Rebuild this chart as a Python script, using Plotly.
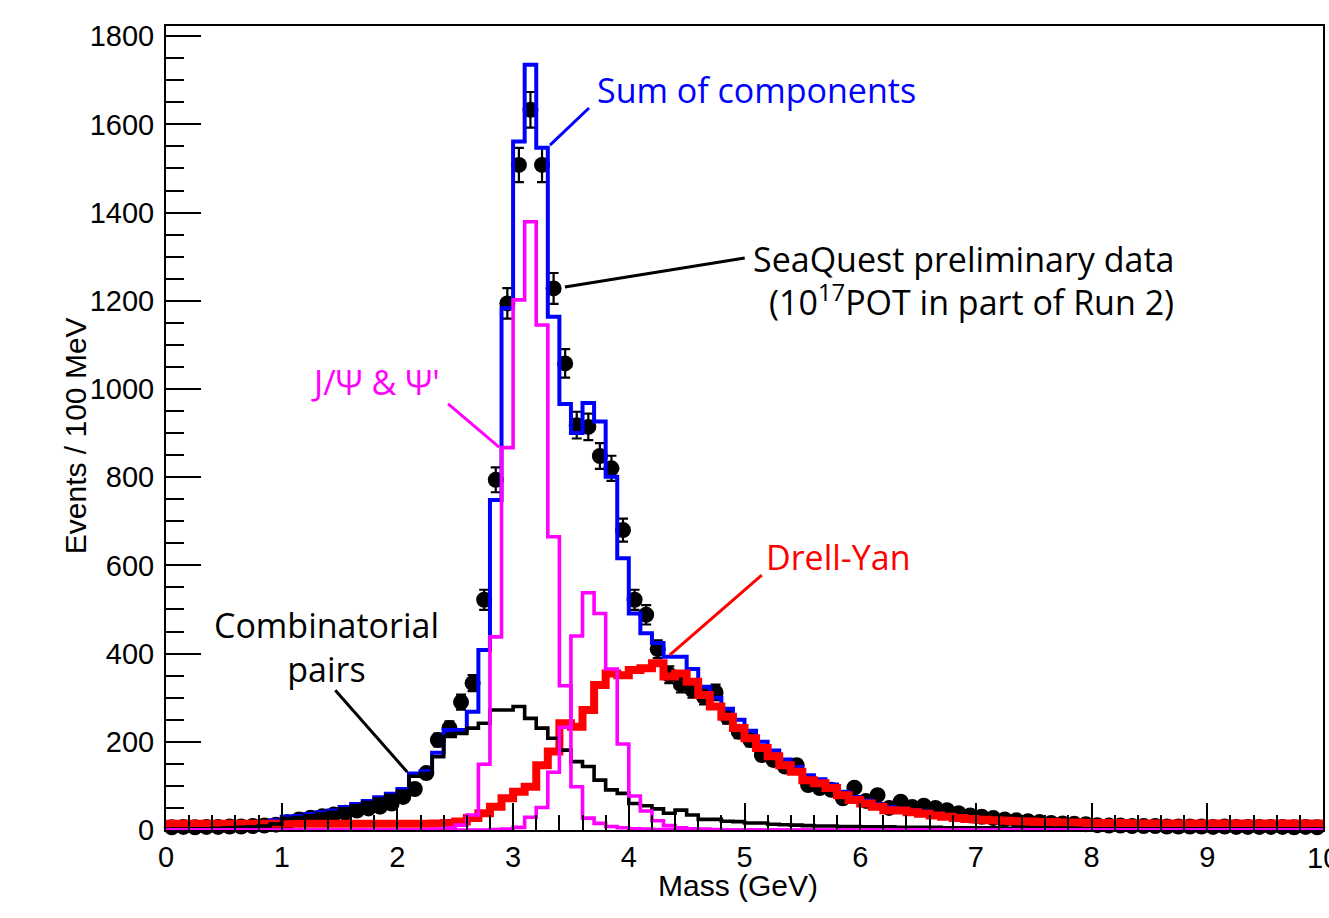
import numpy as np
import plotly.graph_objects as go

# ---------------- data (100 bins of 100 MeV, 0-10 GeV) ----------------
bin_width = 0.1
n_bins = 100

data_counts = [
    6, 7, 6, 7, 7, 8, 8, 9, 10, 12,
    18, 24, 28, 31, 35, 39, 44, 49, 53, 60,
    75, 93, 129, 204, 231, 290, 333, 522, 794, 1194,
    1508, 1633, 1508, 1228, 1058, 918, 914, 848, 820, 680,
    522, 488, 410, 352, 330, 318, 302, 312, 257, 223,
    204, 170, 159, 144, 147, 102, 95, 91, 72, 96,
    66, 79, 50, 64, 52, 55, 50, 45, 38, 33,
    30, 27, 24, 22, 20, 18, 16, 15, 14, 13,
    11, 10, 10, 9, 9, 9, 8, 8, 8, 8,
    7, 8, 7, 7, 7, 7, 7, 6, 7, 6,
]

data_errors = [
    2.4, 2.6, 2.4, 2.6, 2.6, 2.8, 2.8, 3.0, 3.2, 3.5,
    4.2, 4.9, 5.3, 5.6, 5.9, 6.2, 6.6, 7.0, 7.3, 7.7,
    8.7, 9.6, 11.4, 14.3, 15.2, 17.0, 18.2, 22.8, 28.2, 34.6,
    38.8, 40.4, 38.8, 35.0, 32.5, 30.3, 30.2, 29.1, 28.6, 26.1,
    22.8, 22.1, 20.2, 18.8, 18.2, 17.8, 17.4, 17.7, 16.0, 14.9,
    14.3, 13.0, 12.6, 12.0, 12.1, 10.1, 9.7, 9.5, 8.5, 9.8,
    8.1, 8.9, 7.1, 8.0, 7.2, 7.4, 7.1, 6.7, 6.2, 5.7,
    5.5, 5.2, 4.9, 4.7, 4.5, 4.2, 4.0, 3.9, 3.7, 3.6,
    3.3, 3.2, 3.2, 3.0, 3.0, 3.0, 2.8, 2.8, 2.8, 2.8,
    2.6, 2.8, 2.6, 2.6, 2.6, 2.6, 2.6, 2.4, 2.6, 2.4,
]

sum_components = [
    15, 15, 15, 15, 15, 16, 16, 17, 18, 22,
    30, 32, 36, 40, 44, 52, 59, 66, 74, 82,
    93, 128, 133, 175, 227, 227, 268, 408, 748, 1183,
    1561, 1735, 1547, 1164, 966, 900, 968, 926, 801, 616,
    491, 446, 424, 393, 393, 365, 325, 300, 275, 250,
    225, 200, 180, 160, 143, 124, 115, 103, 87, 75,
    67, 59, 52, 49, 45, 42, 37, 34, 31, 29,
    27, 25, 24, 23, 22, 21, 20, 20, 19, 19,
    18, 18, 18, 18, 18, 18, 18, 18, 18, 18,
    18, 18, 18, 18, 18, 18, 18, 18, 18, 18,
]

combinatorial = [
    2, 2, 3, 3, 4, 5, 6, 7, 9, 14,
    26, 28, 32, 36, 40, 48, 55, 62, 70, 78,
    88, 122, 128, 166, 212, 219, 231, 242, 272, 272,
    280, 253, 231, 208, 181, 155, 144, 113, 91, 83,
    60, 55, 48, 38, 45, 34, 24, 24, 20, 19,
    16, 16, 13, 12, 11, 10, 9, 9, 8, 8,
    7, 7, 7, 6, 6, 6, 6, 5, 5, 5,
    5, 5, 4, 4, 4, 4, 4, 4, 4, 3,
    3, 3, 3, 3, 3, 3, 3, 3, 3, 3,
    3, 3, 3, 3, 2, 2, 2, 2, 2, 2,
]

drell_yan = [
    14, 14, 14, 14, 14, 14, 14, 14, 14, 14,
    14, 14, 14, 14, 14, 14, 14, 14, 14, 14,
    14, 14, 14, 15, 16, 19, 27, 38, 53, 72,
    87, 98, 147, 178, 242, 234, 272, 329, 355, 351,
    363, 367, 378, 348, 355, 336, 306, 280, 257, 231,
    208, 186, 167, 147, 132, 113, 106, 95, 79, 68,
    60, 53, 45, 44, 40, 37, 33, 30, 27, 25,
    23, 22, 21, 20, 19, 18, 18, 17, 17, 16,
    16, 16, 16, 15, 15, 15, 15, 15, 15, 15,
    15, 15, 15, 15, 15, 15, 15, 15, 15, 15,
]

jpsi = [
    0, 0, 0, 0, 0, 0, 0, 0, 0, 0,
    0, 0, 0, 0, 0, 0, 0, 0, 0, 0,
    0, 0, 1, 2, 5, 11, 34, 149, 438, 867,
    1202, 1379, 1145, 665, 327, 98, 27, 15, 8, 5,
    3, 2, 1, 1, 0, 0, 0, 0, 0, 0,
    0, 0, 0, 0, 0, 0, 0, 0, 0, 0,
    0, 0, 0, 0, 0, 0, 0, 0, 0, 0,
    0, 0, 0, 0, 0, 0, 0, 0, 0, 0,
    0, 0, 0, 0, 0, 0, 0, 0, 0, 0,
    0, 0, 0, 0, 0, 0, 0, 0, 0, 0,
]

psi_prime = [
    0, 0, 0, 0, 0, 0, 0, 0, 0, 0,
    0, 0, 0, 0, 0, 0, 0, 0, 0, 0,
    0, 0, 0, 0, 0, 0, 0, 0, 1, 2,
    6, 29, 51, 131, 233, 440, 538, 491, 365, 195,
    77, 43, 21, 10, 5, 3, 2, 1, 0, 0,
    0, 0, 0, 0, 0, 0, 0, 0, 0, 0,
    0, 0, 0, 0, 0, 0, 0, 0, 0, 0,
    0, 0, 0, 0, 0, 0, 0, 0, 0, 0,
    0, 0, 0, 0, 0, 0, 0, 0, 0, 0,
    0, 0, 0, 0, 0, 0, 0, 0, 0, 0,
]

x_tick_values = [0, 1, 2, 3, 4, 5, 6, 7, 8, 9, 10]

# ---------------- geometry helpers ----------------
edges = np.round(np.arange(n_bins + 1) * bin_width, 4)
centers = edges[:-1] + bin_width / 2


def hist_trace(values, color, width):
    return go.Scatter(
        x=list(edges),
        y=list(values) + [values[-1]],
        mode="lines",
        line=dict(color=color, width=width, shape="hv"),
        hoverinfo="skip",
        showlegend=False,
    )


fig = go.Figure()

# data points
fig.add_trace(go.Scatter(
    x=centers, y=data_counts, mode="markers",
    marker=dict(color="black", size=16),
    error_y=dict(type="data", array=data_errors, visible=True,
                 color="black", thickness=2.2, width=5),
    cliponaxis=False, showlegend=False,
))

fig.add_trace(hist_trace(sum_components, "#0000ff", 4))
fig.add_trace(hist_trace(drell_yan, "#ff0000", 8))
fig.add_trace(hist_trace(combinatorial, "#000000", 3.6))
fig.add_trace(hist_trace(jpsi, "#ff00ff", 3.6))
fig.add_trace(hist_trace(psi_prime, "#ff00ff", 3.6))

ann_font = "Open Sans"
ann_size = 34
annotations = [
    dict(text="Sum of components", x=5.101, y=1678, color="#0000ff"),
    dict(text="SeaQuest preliminary data", x=8.73, y=1295, xanchor="right", color="black"),
    dict(text="(10<sup>17</sup>POT in part of Run 2)", x=8.73, y=1200,
         xanchor="right", color="black"),
    dict(text="J/\u03a8 & \u03a8'", x=1.812, y=1016, color="#ff00ff"),
    dict(text="Drell-Yan", x=5.809, y=619, color="#ff0000"),
    dict(text="Combinatorial<br>pairs", x=1.390, y=414, color="black"),
]
ann_list = []
for a in annotations:
    ann_list.append(dict(
        xref="x", yref="y", showarrow=False, yanchor="middle",
        xanchor=a.get("xanchor", "center"), x=a["x"], y=a["y"], text=a["text"],
        font=dict(family=ann_font, size=ann_size, color=a["color"]),
    ))

tick_font = dict(family="Liberation Sans", size=29, color="black")

# the last x tick label sits on the frame edge (partly outside the page)
ann_list.append(dict(text=str(x_tick_values[-1]), xref="x", yref="paper",
                     x=x_tick_values[-1], y=-0.012, showarrow=False,
                     xanchor="center", yanchor="top", font=tick_font))

# axis titles
ann_list.append(dict(text="Events / 100 MeV", xref="paper", yref="paper",
                     x=-0.0785, y=0.490, textangle=-90, showarrow=False,
                     xanchor="center", yanchor="middle",
                     font=dict(family="Liberation Sans", size=30, color="black")))
ann_list.append(dict(text="Mass (GeV)", xref="paper", yref="paper",
                     x=0.4948, y=-0.0685, showarrow=False,
                     xanchor="center", yanchor="middle",
                     font=dict(family="Liberation Sans", size=30, color="black")))

pointer_lines = [
    ((3.656, 1637), (3.319, 1553), "#0000ff"),
    ((5.002, 1297), (3.448, 1231), "black"),
    ((2.438, 966), (2.879, 868), "#ff00ff"),
    ((5.149, 578), (4.355, 397), "#ff0000"),
    ((1.463, 317), (2.085, 131.5), "black"),
]
shapes = []
for (x0, y0), (x1, y1), c in pointer_lines:
    shapes.append(dict(type="line", xref="x", yref="y", x0=x0, y0=y0, x1=x1, y1=y1,
                       line=dict(color=c, width=3)))

fig.update_layout(
    width=1329, height=918,
    margin=dict(l=166, r=4, t=26, b=88),
    paper_bgcolor="white", plot_bgcolor="white",
    showlegend=False,
    annotations=ann_list,
    shapes=shapes,
    xaxis=dict(
        range=[0, 10], tickmode="array", tickvals=x_tick_values[:-1],
        ticktext=[str(v) for v in x_tick_values[:-1]],
        ticks="inside", ticklen=27, tickwidth=2, tickcolor="black",
        minor=dict(dtick=0.2, tick0=0, ticks="inside", ticklen=15, tickwidth=2,
                   tickcolor="black"),
        showline=True, linecolor="black", linewidth=2, mirror=True,
        showgrid=False, zeroline=False, tickfont=tick_font,
    ),
    yaxis=dict(
        range=[0, 1823], dtick=200, tick0=0,
        ticks="inside", ticklen=35, tickwidth=2, tickcolor="black",
        minor=dict(dtick=50, ticks="inside", ticklen=18, tickwidth=2, tickcolor="black"),
        showline=True, linecolor="black", linewidth=2, mirror=True,
        showgrid=False, zeroline=False, tickfont=tick_font,
        ticklabelstandoff=4,
    ),
)

fig.write_html("out.html")
